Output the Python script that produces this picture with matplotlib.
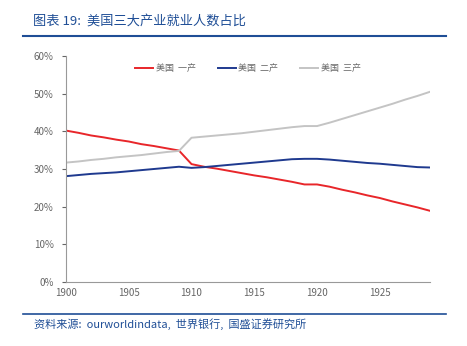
import matplotlib
matplotlib.use('Agg')
import matplotlib.pyplot as plt
import numpy as np

plt.rcParams['font.family'] = ['Noto Sans CJK SC', 'DejaVu Sans']

# Share of employment by sector, USA
years = list(range(1900, 1930))
primary = [40.2, 39.6, 38.9, 38.4, 37.8, 37.3, 36.6, 36.1, 35.5, 34.9,
           31.3, 30.6, 30.1, 29.5, 28.9, 28.3, 27.8, 27.2, 26.6, 25.9,
           25.9, 25.3, 24.5, 23.8, 23.0, 22.3, 21.4, 20.6, 19.8, 18.9]
secondary = [28.1, 28.4, 28.7, 28.9, 29.1, 29.4, 29.7, 30.0, 30.3, 30.6,
             30.3, 30.5, 30.8, 31.1, 31.4, 31.7, 32.0, 32.3, 32.6, 32.7,
             32.7, 32.5, 32.2, 31.9, 31.6, 31.4, 31.1, 30.8, 30.5, 30.4]
tertiary = [31.7, 32.0, 32.4, 32.7, 33.1, 33.4, 33.7, 34.1, 34.5, 34.8,
            38.3, 38.6, 38.9, 39.2, 39.5, 39.9, 40.3, 40.7, 41.1, 41.4,
            41.4, 42.3, 43.3, 44.3, 45.3, 46.3, 47.3, 48.4, 49.4, 50.5]
labels = ['美国  一产', '美国  二产', '美国  三产']
colors = ['#e8262a', '#1f3a8f', '#c4c4c4']

title_color = '#1f4e96'
tick_color = '#666666'

fig = plt.figure(figsize=(4.67, 3.46), dpi=100)
ax = fig.add_axes([66/467, 1 - 282/346, (430 - 66)/467, (282 - 56)/346])

for vals, lab, c in zip([primary, secondary, tertiary], labels, colors):
    ax.plot(years, vals, color=c, lw=1.4, label=lab)

ax.set_xlim(1900, 1929)
ax.set_ylim(0, 60)
ax.set_xticks(range(1900, 1930, 5))
ax.set_yticks(range(0, 61, 10))
ax.set_yticklabels([f'{v}%' for v in range(0, 61, 10)])
ax.tick_params(colors=tick_color, labelsize=7, width=0.8)
ax.tick_params(axis='y', length=3, pad=6)
ax.tick_params(axis='x', length=0, pad=4)
for s in ['top', 'right']:
    ax.spines[s].set_visible(False)
for s in ['left', 'bottom']:
    ax.spines[s].set_color('#999999')
    ax.spines[s].set_linewidth(0.8)

leg = ax.legend(loc='upper center', bbox_to_anchor=(0.5, 1.0), ncol=3, frameon=False,
                fontsize=6.5, handlelength=2.0, columnspacing=2.4, handletextpad=0.3)
for t in leg.get_texts():
    t.set_color(tick_color)

# title + rules
fig.text(33/467, 1 - 21/346, '图表 19:  美国三大产业就业人数占比', color=title_color,
         fontsize=9.5, style='italic', va='center', ha='left')
fig.add_artist(plt.Line2D([23/467, 446/467], [1 - 36/346, 1 - 36/346], color=title_color, lw=1.5))
fig.add_artist(plt.Line2D([23/467, 446/467], [1 - 314/346, 1 - 314/346], color=title_color, lw=1.2))
fig.text(34/467, 1 - 324/346, '资料来源:  ourworldindata,  世界银行,  国盛证券研究所', color=title_color,
         fontsize=8, style='italic', va='center', ha='left')

fig.savefig('out.png', dpi=100)
